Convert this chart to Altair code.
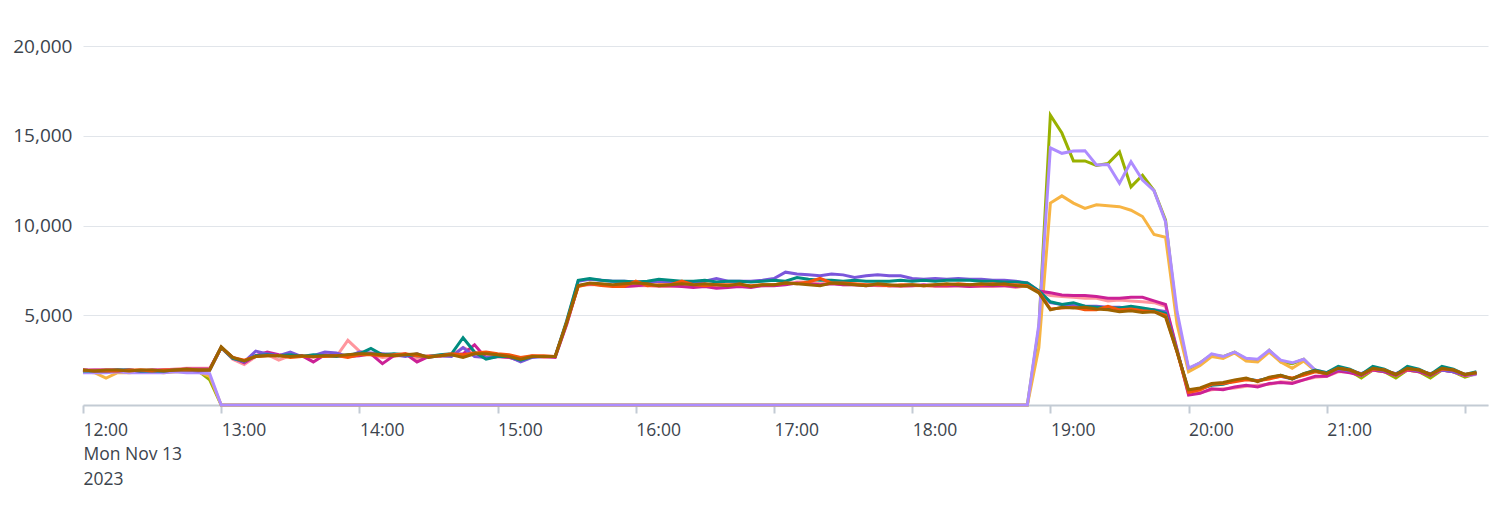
import altair as alt
import pandas as pd
from datetime import datetime, timedelta

START = datetime(2023, 11, 13, 12, 0)
STEP_MINUTES = 5

# ---- series values (5-minute buckets from 12:00 to 22:05) ----
olive = [
    1900, 1900, 1850, 1900, 1900, 1900, 1850, 1900, 1900, 1950, 1900, 1400,
    0, 0, 0, 0, 0, 0, 0, 0, 0, 0,
    0, 0, 0, 0, 0, 0, 0, 0, 0, 0,
    0, 0, 0, 0, 0, 0, 0, 0, 0, 0,
    0, 0, 0, 0, 0, 0, 0, 0, 0, 0,
    0, 0, 0, 0, 0, 0, 0, 0, 0, 0,
    0, 0, 0, 0, 0, 0, 0, 0, 0, 0,
    0, 0, 0, 0, 0, 0, 0, 0, 0, 0,
    0, 4300,
    16150, 15150, 13600, 13600, 13350, 13450, 14100, 12150, 12800, 11950, 10300,
    4800,
    2000, 2350, 2800, 2700, 2950, 2550, 2450, 3050, 2400, 2300, 2550, 1900, 1700,
    2000, 1900, 1500, 1950, 1850, 1500, 1950, 1850, 1500, 1950, 1850, 1550, 1750,
]
yellow = [
    1850, 1800, 1500, 1800, 1800, 1850, 1850, 1800, 1850, 1850, 1850, 1600,
    0, 0, 0, 0, 0, 0, 0, 0, 0, 0,
    0, 0, 0, 0, 0, 0, 0, 0, 0, 0,
    0, 0, 0, 0, 0, 0, 0, 0, 0, 0,
    0, 0, 0, 0, 0, 0, 0, 0, 0, 0,
    0, 0, 0, 0, 0, 0, 0, 0, 0, 0,
    0, 0, 0, 0, 0, 0, 0, 0, 0, 0,
    0, 0, 0, 0, 0, 0, 0, 0, 0, 0,
    0, 3200,
    11250, 11650, 11250, 10950, 11150, 11100, 11050, 10850, 10500, 9500, 9350,
    4500,
    1850, 2200, 2700, 2600, 2900, 2450, 2400, 2950, 2400, 2050, 2450, 1900, 1750,
    2000, 1900, 1700, 1950, 1850, 1700, 1950, 1850, 1700, 1950, 1850, 1650, 1750,
]
lavender = [
    1800, 1800, 1800, 1850, 1800, 1800, 1800, 1800, 1850, 1800, 1800, 1750,
    0, 0, 0, 0, 0, 0, 0, 0, 0, 0,
    0, 0, 0, 0, 0, 0, 0, 0, 0, 0,
    0, 0, 0, 0, 0, 0, 0, 0, 0, 0,
    0, 0, 0, 0, 0, 0, 0, 0, 0, 0,
    0, 0, 0, 0, 0, 0, 0, 0, 0, 0,
    0, 0, 0, 0, 0, 0, 0, 0, 0, 0,
    0, 0, 0, 0, 0, 0, 0, 0, 0, 0,
    0, 4500,
    14330, 14020, 14150, 14170, 13370, 13400, 12350, 13550, 12530, 11940, 10210,
    5200,
    2050, 2350, 2850, 2700, 2950, 2600, 2550, 3050, 2500, 2350, 2550, 1950, 1800,
    2050, 1950, 1750, 2000, 1900, 1750, 2000, 1900, 1750, 1950, 1850, 1650, 1700,
]
pink = [
    1900, 1950, 1950, 1950, 1900, 1950, 1950, 1950, 2000, 2050, 2050, 2050,
    3200, 2550, 2250, 2700, 2800, 2500, 2750, 2700, 2650, 2750,
    2700, 3600, 3000, 2800, 2650, 2700, 2800, 2600, 2750, 2700,
    2750, 3200, 2900, 2700, 2700, 2650, 2500, 2750, 2650, 2700,
    4500,
    6650, 6700, 6700, 6650, 6600, 6650, 6650, 6600, 6600, 6650,
    6600, 6650, 6600, 6600, 6600, 6600, 6650, 6700, 6750, 6850,
    6850, 6750, 6800, 6700, 6700, 6700, 6650, 6650, 6600, 6650,
    6650, 6600, 6600, 6650, 6600, 6600, 6600, 6650, 6550,
    6650, 6300,
    6100, 6050, 6000, 5950, 5950, 5800, 5850, 5800, 5750, 5700, 5500,
    3050,
    600, 700, 850, 900, 950, 1050, 1100, 1150, 1300, 1250, 1400, 1550, 1600,
    1850, 1850, 1650, 1950, 1900, 1650, 1950, 1900, 1700, 1950, 1900, 1650, 1750,
]
magenta = [
    1950, 1950, 1950, 1950, 1950, 1900, 1950, 1950, 1950, 2000, 2000, 2000,
    3200, 2650, 2350, 2750, 2950, 2800, 2700, 2750, 2400, 2800,
    2750, 2700, 2750, 2850, 2300, 2750, 2850, 2400, 2700, 2750,
    2800, 2850, 3350, 2600, 2700, 2650, 2450, 2700, 2700, 2650,
    4500,
    6650, 6750, 6700, 6650, 6600, 6650, 6700, 6650, 6650, 6600,
    6550, 6600, 6500, 6550, 6600, 6550, 6650, 6650, 6700, 6800,
    6750, 6700, 6750, 6700, 6700, 6650, 6700, 6650, 6650, 6650,
    6700, 6650, 6650, 6650, 6600, 6650, 6650, 6650, 6600,
    6700, 6350,
    6250, 6130, 6100, 6100, 6050, 5950, 5950, 6000, 6000, 5800, 5600,
    3100,
    550, 650, 900, 850, 1000, 1100, 1000, 1200, 1250, 1200, 1400, 1600, 1600,
    1900, 1800, 1650, 1950, 1850, 1650, 1950, 1850, 1650, 1950, 1850, 1650, 1750,
]
purple = [
    1950, 1900, 1900, 1900, 1950, 1900, 1900, 1900, 1950, 1950, 1900, 1950,
    3200, 2600, 2400, 3000, 2850, 2750, 2950, 2700, 2750, 2950,
    2900, 2700, 2950, 2900, 2850, 2800, 2700, 2850, 2650, 2750,
    2700, 3200, 2700, 2650, 2700, 2700, 2400, 2650, 2700, 2700,
    4600,
    6900, 7000, 6950, 6900, 6900, 6850, 6850, 6900, 6850, 6850,
    6850, 6900, 7050, 6900, 6900, 6900, 6950, 7050, 7400, 7300,
    7250, 7200, 7300, 7250, 7100, 7200, 7250, 7200, 7200, 7050,
    7000, 7050, 7000, 7050, 7000, 7000, 6950, 6950, 6900,
    6800, 6350,
    5700, 5600, 5550, 5500, 5500, 5450, 5450, 5350, 5350, 5300, 5200,
    3000,
    800, 900, 1150, 1200, 1350, 1450, 1350, 1500, 1600, 1450, 1700, 1900, 1750,
    2000, 1900, 1750, 2000, 1900, 1750, 2000, 1900, 1750, 1950, 1850, 1700, 1750,
]
teal = [
    1900, 1900, 1900, 1950, 1950, 1900, 1900, 1900, 1950, 1950, 1950, 1950,
    3200, 2600, 2450, 2750, 2800, 2750, 2800, 2700, 2800, 2750,
    2700, 2800, 2850, 3150, 2800, 2850, 2800, 2750, 2700, 2800,
    2850, 3750, 2950, 2550, 2700, 2700, 2500, 2700, 2700, 2700,
    4700,
    6950, 7050, 6950, 6900, 6900, 6850, 6900, 7000, 6950, 6900,
    6900, 6950, 6850, 6900, 6900, 6850, 6900, 6950, 6900, 7100,
    7000, 6950, 6950, 6900, 6950, 6900, 6900, 6900, 6950, 6900,
    6950, 6900, 6950, 6950, 6950, 6900, 6900, 6850, 6850,
    6800, 6350,
    5750, 5600, 5700, 5500, 5450, 5400, 5400, 5500, 5400, 5300, 5100,
    3000,
    750, 900, 1100, 1150, 1350, 1450, 1350, 1500, 1650, 1450, 1750, 1950, 1800,
    2150, 2000, 1700, 2150, 2000, 1700, 2150, 2000, 1700, 2150, 2000, 1700, 1850,
]
orange = [
    1950, 1900, 1900, 1900, 1950, 1950, 1900, 1950, 1950, 1950, 1950, 1950,
    3200, 2650, 2500, 2700, 2750, 2750, 2650, 2700, 2700, 2700,
    2750, 2650, 2800, 2800, 2750, 2800, 2850, 2750, 2700, 2750,
    2850, 2800, 2900, 2950, 2850, 2800, 2650, 2750, 2750, 2700,
    4600,
    6600, 6750, 6650, 6600, 6600, 6900, 6650, 6700, 6700, 6900,
    6700, 6650, 6700, 6700, 6700, 6650, 6700, 6700, 6800, 6750,
    6850, 7050, 6800, 6800, 6750, 6700, 6700, 6650, 6700, 6700,
    6650, 6700, 6700, 6750, 6700, 6700, 6750, 6700, 6700,
    6650, 6300,
    5350, 5400, 5450, 5300, 5300, 5500, 5300, 5350, 5250, 5200, 5000,
    2950,
    700, 850, 1150, 1200, 1300, 1400, 1350, 1450, 1600, 1500, 1650, 1850, 1750,
    2050, 1950, 1700, 2000, 1950, 1700, 2000, 1950, 1700, 2000, 1950, 1700, 1800,
]
brown = [
    1950, 1900, 1950, 1950, 1900, 1950, 1950, 1900, 1950, 2000, 1950, 1950,
    3250, 2650, 2450, 2700, 2750, 2750, 2700, 2750, 2700, 2750,
    2750, 2800, 2850, 2850, 2800, 2750, 2800, 2850, 2650, 2750,
    2800, 2650, 2850, 2850, 2800, 2700, 2550, 2700, 2700, 2700,
    4600,
    6650, 6800, 6750, 6700, 6750, 6800, 6750, 6650, 6700, 6750,
    6700, 6750, 6700, 6650, 6750, 6600, 6700, 6700, 6800, 6750,
    6700, 6650, 6800, 6750, 6700, 6650, 6750, 6700, 6650, 6700,
    6650, 6700, 6750, 6700, 6700, 6750, 6700, 6750, 6650,
    6600, 6250,
    5300, 5450, 5400, 5450, 5350, 5300, 5200, 5250, 5150, 5200, 4900,
    2950,
    850, 950, 1200, 1250, 1400, 1500, 1300, 1550, 1650, 1450, 1750, 1900, 1750,
    2050, 1950, 1700, 2050, 1950, 1700, 2050, 1950, 1700, 2050, 1950, 1700, 1800,
]

# drawing order: first = bottom
series = [
    ("olive", "#99B100", olive),
    ("yellow", "#F7B443", yellow),
    ("lavender", "#AE8CFF", lavender),
    ("pink", "#FF969E", pink),
    ("magenta", "#CB2196", magenta),
    ("purple", "#7B56DB", purple),
    ("teal", "#008C80", teal),
    ("orange", "#F6540B", orange),
    ("brown", "#9D6300", brown),
]

rows = []
for name, _color, vals in series:
    for i, v in enumerate(vals):
        t = START + timedelta(minutes=STEP_MINUTES * i)
        rows.append({"series": name, "time": t.strftime("%Y-%m-%dT%H:%M:%S"), "count": v})
df = pd.DataFrame(rows)

FONT = "Open Sans"
TEXT = "#3C444D"
AXIS_LINE = "#C3CBD4"

hour_ticks = [alt.DateTime(year=2023, month=11, date=13, hours=h) for h in range(12, 23)]

x_enc = alt.X(
    "time:T",
    title=None,
    scale=alt.Scale(
        domain=[
            alt.DateTime(year=2023, month=11, date=13, hours=12),
            alt.DateTime(year=2023, month=11, date=13, hours=22, minutes=10),
        ],
        nice=False,
    ),
    axis=alt.Axis(
        values=hour_ticks,
        labelExpr="hours(datum.value) == 12 ? [timeFormat(datum.value, '%H:%M'), 'Mon Nov 13', '2023'] : (hours(datum.value) == 22 ? '' : timeFormat(datum.value, '%H:%M'))",
        labelAlign="left",
        labelBaseline="top",
        labelFlush=False,
        labelOverlap=False,
        labelLineHeight=24.5,
        labelFontSize=17.5,
        labelFont=FONT,
        labelColor=TEXT,
        labelPadding=8,
        tickSize=8,
        tickWidth=2,
        tickColor=AXIS_LINE,
        domainColor=AXIS_LINE,
        domainWidth=2,
        grid=False,
    ),
)
y_enc = alt.Y(
    "count:Q",
    title=None,
    scale=alt.Scale(domain=[0, 20000], nice=False),
    axis=alt.Axis(
        values=[0, 5000, 10000, 15000, 20000],
        labelExpr="datum.value == 0 ? '' : format(datum.value, ',')",
        grid=True,
        gridColor="#E1E5EA",
        gridWidth=1,
        domain=False,
        ticks=False,
        tickSize=0,
        labelPadding=11,
        labelFontSize=19,
        labelFont=FONT,
        labelColor=TEXT,
    ),
)

base = alt.Chart(df)
layers = [
    base.transform_filter(alt.datum.series == name)
    .mark_line(color=color, strokeWidth=3)
    .encode(x=x_enc, y=y_enc)
    for name, color, _vals in series
]

chart = (
    alt.layer(*layers)
    .properties(
        width=1405,
        height=359,
        autosize=alt.AutoSizeParams(type="none"),
        padding={"left": 75, "top": 38, "right": 5, "bottom": 85},
    )
    .configure_view(stroke=None)
)

chart.save("out.html", embed_options={"renderer": "svg", "actions": False})
